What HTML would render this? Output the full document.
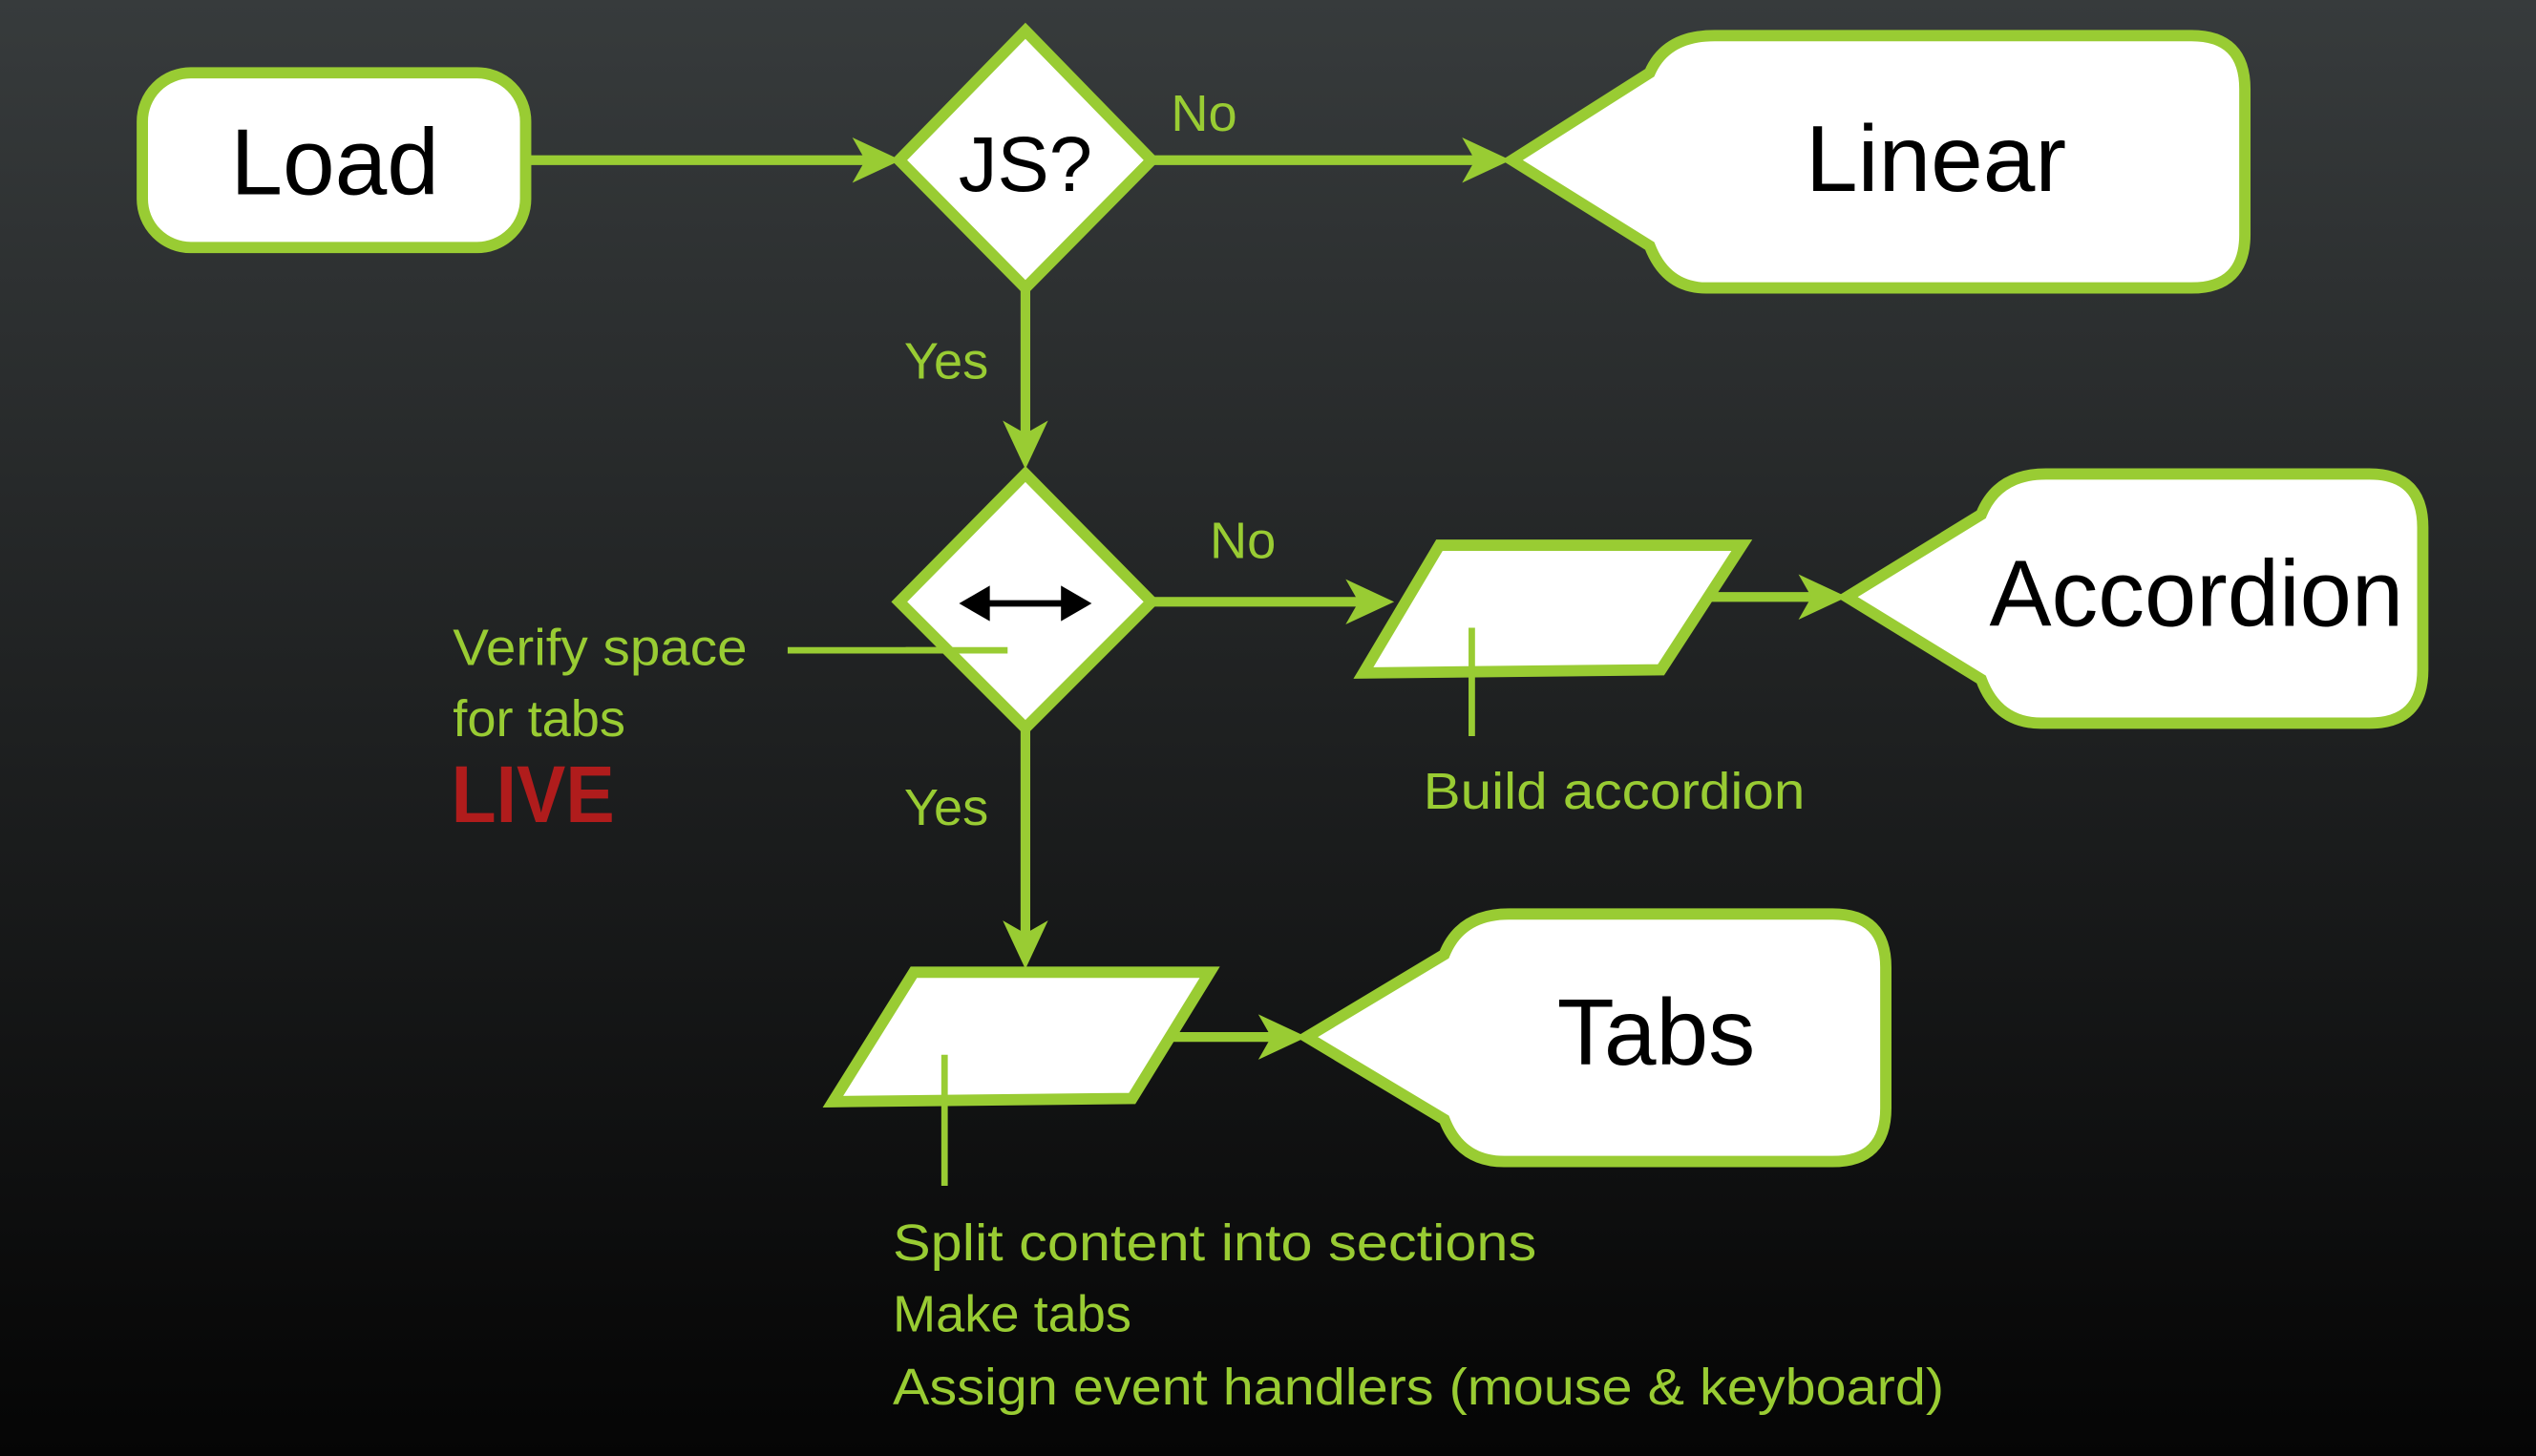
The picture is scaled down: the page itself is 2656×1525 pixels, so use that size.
<!DOCTYPE html>
<html><head><meta charset="utf-8"><style>
html,body{margin:0;padding:0;width:2656px;height:1525px;overflow:hidden;background:#111}
svg{display:block}
text{font-family:"Liberation Sans",sans-serif}
</style></head><body>
<svg width="2656" height="1525" viewBox="0 0 1568 900" preserveAspectRatio="none">
<defs>
<linearGradient id="bg" x1="0" y1="0" x2="0" y2="1">
<stop offset="0" stop-color="#373b3c"/><stop offset="1" stop-color="#050505"/>
</linearGradient>
</defs>
<rect width="1568" height="900" fill="url(#bg)"/>
<g stroke="#99cc33" stroke-width="6" fill="none">
<line x1="325" y1="99" x2="540" y2="99"/>
<line x1="712" y1="99" x2="915" y2="99"/>
<line x1="634" y1="178" x2="634" y2="272"/>
<line x1="712" y1="372" x2="845" y2="372"/>
<line x1="1055" y1="369" x2="1125" y2="369"/>
<line x1="634" y1="450" x2="634" y2="582"/>
<line x1="720" y1="641" x2="790" y2="641"/>
<line x1="487" y1="402" x2="623" y2="402" stroke-width="4"/>
</g>
<g fill="#99cc33">
<polygon points="557,99 527,85 535,99 527,113"/>
<polygon points="934,99 904,85 912,99 904,113"/>
<polygon points="634,290 620,260 634,268 648,260"/>
<polygon points="862,372 832,358 840,372 832,386"/>
<polygon points="1142,369 1112,355 1120,369 1112,383"/>
<polygon points="634,599 620,569 634,577 648,569"/>
<polygon points="808,641 778,627 786,641 778,655"/>
</g>
<g fill="#fff" stroke="#99cc33" stroke-width="7" stroke-linejoin="miter">
<rect x="88" y="45" width="237" height="108" rx="30"/>
<polygon points="634,19 712,99 634,178 556,99"/>
<path d="M935,99 L1020,45 Q1030,22 1060,22 L1355,22 Q1388,22 1388,55 L1388,145 Q1388,178 1355,178 L1055,178 Q1030,178 1020,152 Z"/>
<polygon points="634,293 712,372 634,450 556,372"/>
<polygon points="843,416 890,337 1077,337 1027,414"/>
<path d="M1142,369 L1225,318 Q1235,293 1265,293 L1465,293 Q1498,293 1498,326 L1498,414 Q1498,447 1465,447 L1262,447 Q1235,447 1225,420 Z"/>
<polygon points="515,681 565,601 748,601 700,679"/>
<path d="M808,641 L893,590 Q903,565 933,565 L1133,565 Q1166,565 1166,598 L1166,685 Q1166,718 1133,718 L930,718 Q903,718 893,692 Z"/>
</g>
<g stroke="#99cc33" stroke-width="4">
<line x1="910" y1="388" x2="910" y2="455"/>
<line x1="584" y1="652" x2="584" y2="733"/>
<line x1="560" y1="402" x2="623" y2="402"/>
</g>
<g stroke="#000" stroke-width="4"><line x1="605" y1="373" x2="663" y2="373"/></g>
<polygon points="593,373 612,362 612,384" fill="#000"/>
<polygon points="675,373 656,362 656,384" fill="#000"/>
<g fill="#000" text-anchor="middle">
<text x="207" y="120" font-size="58">Load</text>
<text x="634" y="118" font-size="48">JS?</text>
<text x="1197" y="118" font-size="58">Linear</text>
<text x="1358" y="387" font-size="58" textLength="256" lengthAdjust="spacingAndGlyphs">Accordion</text>
<text x="1024" y="658" font-size="58">Tabs</text>
</g>
<g fill="#99cc33" font-size="32">
<text x="724" y="81">No</text>
<text x="559" y="234">Yes</text>
<text x="748" y="345">No</text>
<text x="559" y="510">Yes</text>
<text x="280" y="411" textLength="182" lengthAdjust="spacingAndGlyphs">Verify space</text>
<text x="280" y="455">for tabs</text>
<text x="880" y="500" textLength="236" lengthAdjust="spacingAndGlyphs">Build accordion</text>
<text x="552" y="779" textLength="398" lengthAdjust="spacingAndGlyphs">Split content into sections</text>
<text x="552" y="823">Make tabs</text>
<text x="552" y="868" textLength="650" lengthAdjust="spacingAndGlyphs">Assign event handlers (mouse &amp; keyboard)</text>
</g>
<text x="279" y="508" font-size="50" font-weight="bold" fill="#b01c1c" textLength="101" lengthAdjust="spacingAndGlyphs">LIVE</text>
</svg>
</body></html>
